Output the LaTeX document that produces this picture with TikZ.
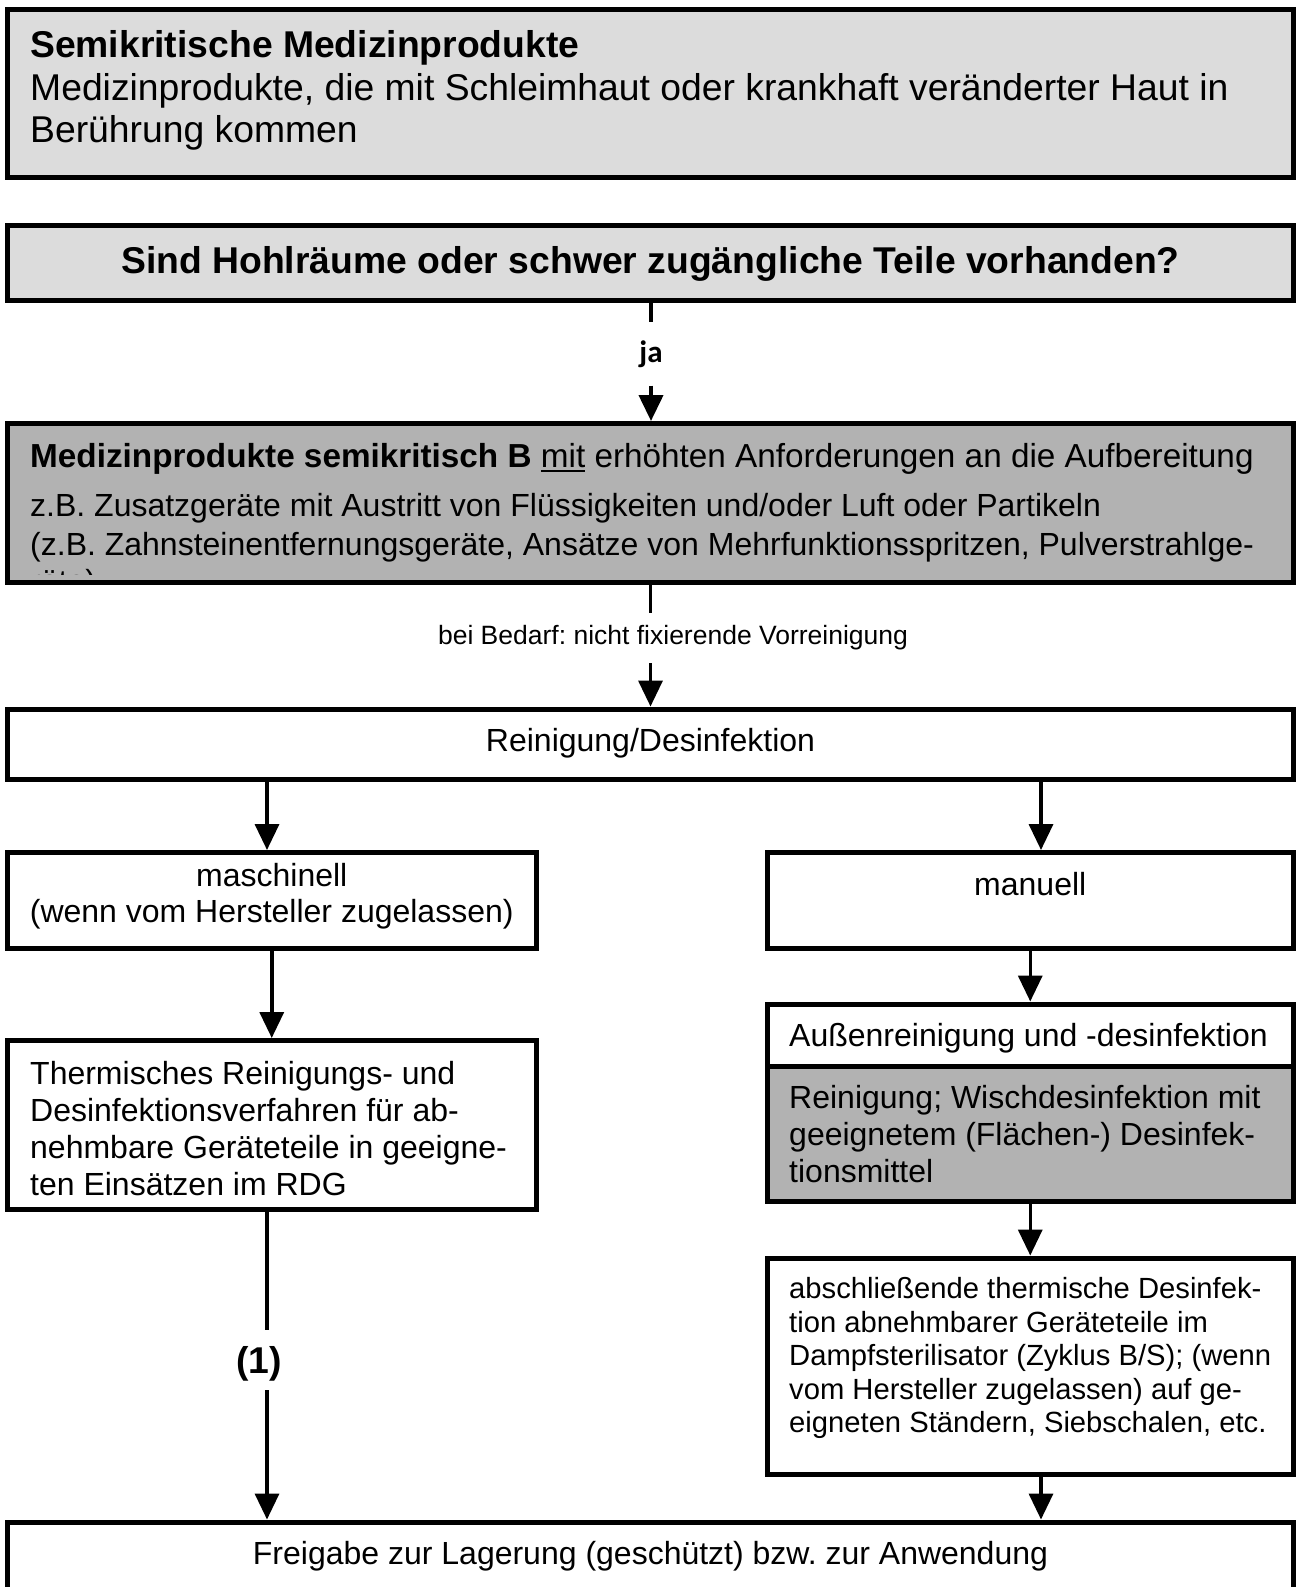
\documentclass[tikz,border=0pt]{standalone}
\usepackage{fontspec}
\setmainfont{Liberation Sans}
\newfontfamily\jafont{Carlito}
\usetikzlibrary{arrows.meta}
\frenchspacing

\definecolor{lgray}{RGB}{220,220,220}
\definecolor{mgray}{RGB}{178,178,178}

% font sizes used in the chart
\newcommand\fbig{\fontsize{37.3pt}{42pt}\selectfont}
\newcommand\fbody{\fontsize{32pt}{37pt}\selectfont}
\newcommand\fhead{\fontsize{33.3pt}{37pt}\selectfont}
\newcommand\fsmall{\fontsize{29.2pt}{33.5pt}\selectfont}
\newcommand\fnote{\fontsize{26.5pt}{28pt}\selectfont}
% underlined word with a heavier rule
\newcommand\ulword[1]{\setbox0\hbox{#1}\rlap{\rule[-5pt]{\wd0}{2pt}}\box0\relax}

\begin{document}
\begin{tikzpicture}[x=1pt,y=-1pt,
  box/.style={draw=black, line width=5pt, inner sep=0pt},
  arr/.style={line width=3.5pt, -{Triangle[length=26pt,width=24pt]}},
  seg/.style={line width=3.5pt},
  ln/.style={anchor=base west, inner sep=0pt},
  cln/.style={anchor=base, inner sep=0pt}]

\useasboundingbox (0,0) rectangle (1300,1587);
\fill[white] (0,0) rectangle (1300,1587);
\clip (0,0) rectangle (1300,1587);

% ---------- boxes ----------
\node[box, fill=lgray, minimum width=1286pt, minimum height=168pt] (b1) at (650.5,93.5) {};
\node[box, fill=lgray, minimum width=1286pt, minimum height=75pt] (b2) at (650.5,263) {};
\node[box, fill=mgray, minimum width=1286pt, minimum height=159pt] (b3) at (650.5,503) {};
\node[box, fill=white, minimum width=1286pt, minimum height=70.5pt] (b4) at (650.5,744.25) {};
\node[box, fill=white, minimum width=528.5pt, minimum height=95.5pt] (b5) at (271.75,900.25) {};
\node[box, fill=white, minimum width=526.5pt, minimum height=95.5pt] (b6) at (1030.25,900.25) {};
\node[box, fill=white, minimum width=528.5pt, minimum height=169pt] (b7) at (271.75,1125) {};
\node[box, fill=white, minimum width=526.5pt, minimum height=62pt] (b8) at (1030.25,1035) {};
\node[box, fill=mgray, minimum width=526.5pt, minimum height=135pt] (b9) at (1030.25,1133.5) {};
\node[box, fill=white, minimum width=526.5pt, minimum height=216.5pt] (b10) at (1030.25,1366.25) {};
\node[box, fill=white, minimum width=1286pt, minimum height=118pt] (b11) at (650.5,1581) {};

% ---------- texts ----------
\node[ln, font=\fbig\bfseries] (t1a) at (30,57.5) {Semikritische Medizinprodukte};
\node[ln, font=\fbig] (t1b) at (30,100) {Medizinprodukte, die mit Schleimhaut oder krankhaft veränderter Haut in};
\node[ln, font=\fbig] (t1c) at (30,142.5) {Berührung kommen};

\node[cln, font=\fbig\bfseries] (t2) at (650.5,273) {Sind Hohlräume oder schwer zugängliche Teile vorhanden?};

\node[ln, font=\fhead] (t3a) at (30,467) {\textbf{Medizinprodukte semikritisch B} \ulword{mit} erhöhten Anforderungen an die Aufbereitung};
\node[ln, font=\fbody] (t3b) at (30,516.5) {z.B. Zusatzgeräte mit Austritt von Flüssigkeiten und/oder Luft oder Partikeln};
\node[ln, font=\fbody] (t3c) at (30,555) {(z.B. Zahnsteinentfernungsgeräte, Ansätze von Mehrfunktionsspritzen, Pulverstrahlge-};
\begin{scope}
  \clip (10,426) rectangle (1291,574);
  \node[ln, font=\fbody] (t3d) at (30,592.5) {räte)};
\end{scope}

\node[cln, font=\fbody] (t4) at (650.5,751) {Reinigung/Desinfektion};

\node[cln, font=\fbody] (t5a) at (271.75,886) {maschinell};
\node[cln, font=\fbody] (t5b) at (271.75,922.5) {(wenn vom Hersteller zugelassen)};

\node[cln, font=\fbody] (t6) at (1030.25,895) {manuell};

\node[ln, font=\fbody] (t7a) at (30,1084) {Thermisches Reinigungs- und};
\node[ln, font=\fbody] (t7b) at (30,1121.3) {Desinfektionsverfahren für ab-};
\node[ln, font=\fbody] (t7c) at (30,1158.2) {nehmbare Geräteteile in geeigne-};
\node[ln, font=\fbody] (t7d) at (30,1195) {ten Einsätzen im RDG};

\node[ln, font=\fbody] (t8) at (789,1046.5) {Außenreinigung und -desinfektion};

\node[ln, font=\fbody] (t9a) at (789,1108.5) {Reinigung; Wischdesinfektion mit};
\node[ln, font=\fbody] (t9b) at (789,1145) {geeignetem (Flächen-) Desinfek-};
\node[ln, font=\fbody] (t9c) at (789,1182) {tionsmittel};

\node[ln, font=\fsmall] (t10a) at (789,1298.5) {abschließende thermische Desinfek-};
\node[ln, font=\fsmall] (t10b) at (789,1332) {tion abnehmbarer Geräteteile im};
\node[ln, font=\fsmall] (t10c) at (789,1365.5) {Dampfsterilisator (Zyklus B/S); (wenn};
\node[ln, font=\fsmall] (t10d) at (789,1399) {vom Hersteller zugelassen) auf ge-};
\node[ln, font=\fsmall] (t10e) at (789,1432.5) {eigneten Ständern, Siebschalen, etc.};

\node[cln, font=\fbody] (t11) at (650.5,1564) {Freigabe zur Lagerung (geschützt) bzw. zur Anwendung};

% ---------- connector labels (gaps in the lines) ----------
\node[inner sep=0pt, minimum height=63pt, font={\jafont\bfseries\fontsize{31pt}{33pt}\selectfont}] (ja) at (651,354) {ja};
\node[inner sep=0pt, minimum height=50pt, font=\fnote] (bedarf) at (673,638) {bei Bedarf: nicht fixierende Vorreinigung};
\node[inner sep=0pt, minimum height=60pt, text depth=0pt, font=\fbig\bfseries] (one) at (259,1360) {(1)};

% x positions of off-centre connectors
\coordinate (xl) at (267,0);
\coordinate (xr) at (1041,0);

% ---------- connectors ----------
\draw[seg, line width=4pt] (b2.south -| ja) -- (ja.north);
\draw[arr, line width=4pt] (ja.south) -- (b3.north -| ja);

\draw[seg] (b3.south) -- (b3.south |- bedarf.north);
\draw[arr] (b3.south |- bedarf.south) -- (b4.north);

\draw[arr] (b4.south -| xl) -- (b5.north -| xl);
\draw[arr] (b4.south -| xr) -- (b6.north -| xr);

\draw[arr] (b5.south) -- (b7.north);
\draw[seg] (b7.south -| xl) -- (one.north -| xl);
\draw[arr] (one.south -| xl) -- (b11.north -| xl);

\draw[arr] (b6.south) -- (b8.north);
\draw[arr] (b9.south) -- (b10.north);
\draw[arr] (b10.south -| xr) -- (b11.north -| xr);

\end{tikzpicture}
\end{document}
